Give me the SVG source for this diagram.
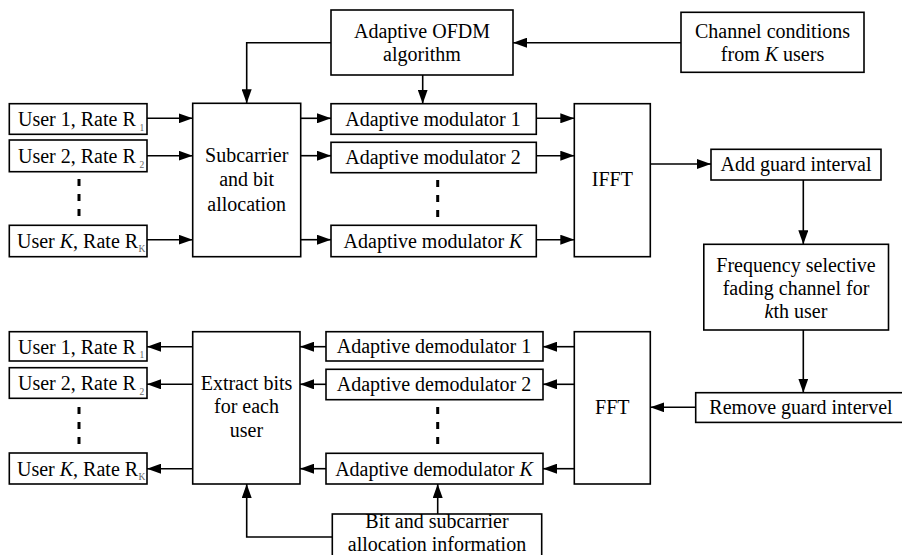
<svg xmlns="http://www.w3.org/2000/svg" width="902" height="555" viewBox="0 0 902 555">
  <style>
    .box { fill: #ffffff; stroke: #000000; stroke-width: 1.6; }
    .lbl { font-family: "Liberation Serif", "Times New Roman", serif; font-size: 20px; fill: #000000; }
    .mid { text-anchor: middle; }
    .sub { font-family: "Liberation Serif", "Times New Roman", serif; font-size: 9.5px; fill: #666666; }
    .wire { fill: none; stroke: #000000; stroke-width: 1.6; }
    .dots { fill: none; stroke: #000000; stroke-width: 3; stroke-dasharray: 7 8; }
  </style>
  <defs>
    <marker id="arrow" viewBox="0 0 14 10" refX="14" refY="5" markerWidth="14" markerHeight="10" markerUnits="userSpaceOnUse" orient="auto">
      <path d="M0,0 L14,5 L0,10 Z" fill="#000000"/>
    </marker>
  </defs>
  <rect width="902" height="555" fill="#ffffff"/>

  <!-- Connectors -->
  <g id="connectors">
    <!-- control paths -->
    <path class="wire" d="M681,42.7 H513" marker-end="url(#arrow)"/>
    <path class="wire" d="M331,42.7 H246.7 V103.3" marker-end="url(#arrow)"/>
    <path class="wire" d="M422.7,75 V103.7" marker-end="url(#arrow)"/>
    <!-- users to allocator -->
    <path class="wire" d="M147,118.3 H192.7" marker-end="url(#arrow)"/>
    <path class="wire" d="M147,155.7 H192.7" marker-end="url(#arrow)"/>
    <path class="wire" d="M147,239.7 H192.7" marker-end="url(#arrow)"/>
    <!-- allocator to modulators -->
    <path class="wire" d="M300.7,118.3 H331" marker-end="url(#arrow)"/>
    <path class="wire" d="M300.7,155.7 H331" marker-end="url(#arrow)"/>
    <path class="wire" d="M300.7,239.7 H331" marker-end="url(#arrow)"/>
    <!-- modulators to IFFT -->
    <path class="wire" d="M536.3,118.3 H574.3" marker-end="url(#arrow)"/>
    <path class="wire" d="M536.3,155.7 H574.3" marker-end="url(#arrow)"/>
    <path class="wire" d="M536.3,239.7 H574.3" marker-end="url(#arrow)"/>
    <!-- transmit / channel / receive chain -->
    <path class="wire" d="M650.3,164 H711" marker-end="url(#arrow)"/>
    <path class="wire" d="M803.3,180 V244.3" marker-end="url(#arrow)"/>
    <path class="wire" d="M803.3,330 V392.7" marker-end="url(#arrow)"/>
    <path class="wire" d="M695.7,407.3 H650.3" marker-end="url(#arrow)"/>
    <!-- FFT to demodulators -->
    <path class="wire" d="M574.3,346.7 H543" marker-end="url(#arrow)"/>
    <path class="wire" d="M574.3,384.3 H543" marker-end="url(#arrow)"/>
    <path class="wire" d="M574.3,468.7 H543" marker-end="url(#arrow)"/>
    <!-- demodulators to extractor -->
    <path class="wire" d="M326,346.7 H300" marker-end="url(#arrow)"/>
    <path class="wire" d="M326,384.3 H300" marker-end="url(#arrow)"/>
    <path class="wire" d="M326,468.7 H300" marker-end="url(#arrow)"/>
    <!-- extractor to users -->
    <path class="wire" d="M192.7,346.7 H147" marker-end="url(#arrow)"/>
    <path class="wire" d="M192.7,384.3 H147" marker-end="url(#arrow)"/>
    <path class="wire" d="M192.7,468.7 H147" marker-end="url(#arrow)"/>
    <!-- allocation info feeds -->
    <path class="wire" d="M332.3,537 H246.7 V484" marker-end="url(#arrow)"/>
    <path class="wire" d="M437.7,514 V484" marker-end="url(#arrow)"/>
    <!-- ellipsis dashes -->
    <path class="dots" d="M79,179 V216"/>
    <path class="dots" d="M437.7,180 V217"/>
    <path class="dots" d="M79,407 V444"/>
    <path class="dots" d="M437.7,407 V444"/>
  </g>

  <!-- Transmitter -->
  <g id="ofdm-algorithm">
    <rect class="box" x="331" y="10" width="182" height="65"/>
    <text class="lbl mid" x="422" y="37.5">Adaptive OFDM</text>
    <text class="lbl mid" x="422" y="60.5">algorithm</text>
  </g>
  <g id="channel-conditions">
    <rect class="box" x="681" y="12.3" width="183" height="60"/>
    <text class="lbl mid" x="772.5" y="37.5">Channel conditions</text>
    <text class="lbl mid" x="772.5" y="60.5">from <tspan font-style="italic">K</tspan> users</text>
  </g>

  <g id="tx-user-1">
    <rect class="box" x="9.3" y="103.7" width="137.7" height="30.6"/>
    <text class="lbl" x="18" y="126">User 1, Rate R</text>
    <text class="sub" x="139.5" y="131">1</text>
  </g>
  <g id="tx-user-2">
    <rect class="box" x="9.3" y="140" width="137.7" height="31.7"/>
    <text class="lbl" x="18" y="163">User 2, Rate R</text>
    <text class="sub" x="139.5" y="168">2</text>
  </g>
  <g id="tx-user-k">
    <rect class="box" x="9.3" y="225.3" width="137.7" height="31.4"/>
    <text class="lbl" x="17" y="248"><tspan>User </tspan><tspan font-style="italic">K</tspan><tspan>, Rate R</tspan></text>
    <text class="sub" x="138.5" y="252" font-size="8.5">K</text>
  </g>

  <g id="subcarrier-allocation">
    <rect class="box" x="192.7" y="103.3" width="108" height="153.4"/>
    <text class="lbl mid" x="246.7" y="162">Subcarrier</text>
    <text class="lbl mid" x="246.7" y="186">and bit</text>
    <text class="lbl mid" x="246.7" y="210.5">allocation</text>
  </g>

  <g id="modulator-1">
    <rect class="box" x="331" y="103.7" width="205.3" height="30.6"/>
    <text class="lbl mid" x="433" y="126">Adaptive modulator 1</text>
  </g>
  <g id="modulator-2">
    <rect class="box" x="331" y="142.3" width="205.3" height="30.4"/>
    <text class="lbl mid" x="433" y="164">Adaptive modulator 2</text>
  </g>
  <g id="modulator-k">
    <rect class="box" x="331" y="225.3" width="205.3" height="31.4"/>
    <text class="lbl mid" x="433" y="248">Adaptive modulator <tspan font-style="italic">K</tspan></text>
  </g>

  <g id="ifft">
    <rect class="box" x="574.3" y="103.7" width="76" height="153"/>
    <text class="lbl mid" x="612.3" y="186">IFFT</text>
  </g>

  <g id="add-guard">
    <rect class="box" x="711" y="149.3" width="170" height="30.7"/>
    <text class="lbl mid" x="796" y="171">Add guard interval</text>
  </g>

  <g id="fading-channel">
    <rect class="box" x="703.8" y="244.3" width="184.7" height="85.7"/>
    <text class="lbl mid" x="796" y="272">Frequency selective</text>
    <text class="lbl mid" x="796" y="294.5">fading channel for</text>
    <text class="lbl mid" x="796" y="318"><tspan font-style="italic">k</tspan>th user</text>
  </g>

  <!-- Receiver -->
  <g id="remove-guard">
    <rect class="box" x="695.7" y="392.7" width="212" height="29.7"/>
    <text class="lbl mid" x="801" y="414">Remove guard intervel</text>
  </g>

  <g id="fft">
    <rect class="box" x="574.3" y="331.7" width="76" height="152.3"/>
    <text class="lbl mid" x="612.3" y="413.5">FFT</text>
  </g>

  <g id="demodulator-1">
    <rect class="box" x="326" y="331.7" width="217" height="29.3"/>
    <text class="lbl mid" x="434" y="353">Adaptive demodulator 1</text>
  </g>
  <g id="demodulator-2">
    <rect class="box" x="326" y="369.3" width="217" height="30.4"/>
    <text class="lbl mid" x="434" y="391">Adaptive demodulator 2</text>
  </g>
  <g id="demodulator-k">
    <rect class="box" x="326" y="453.3" width="217" height="30.7"/>
    <text class="lbl mid" x="434" y="475.5">Adaptive demodulator  <tspan font-style="italic">K</tspan></text>
  </g>

  <g id="extract-bits">
    <rect class="box" x="192.7" y="331.7" width="107.3" height="152.3"/>
    <text class="lbl mid" x="246.5" y="389.5">Extract bits</text>
    <text class="lbl mid" x="246.5" y="413">for each</text>
    <text class="lbl mid" x="246.5" y="437">user</text>
  </g>

  <g id="rx-user-1">
    <rect class="box" x="9.3" y="331.7" width="137.7" height="29.3"/>
    <text class="lbl" x="18" y="353.5">User 1, Rate R</text>
    <text class="sub" x="139.5" y="358">1</text>
  </g>
  <g id="rx-user-2">
    <rect class="box" x="9.3" y="367.7" width="137.7" height="30.6"/>
    <text class="lbl" x="18" y="390">User 2, Rate R</text>
    <text class="sub" x="139.5" y="395">2</text>
  </g>
  <g id="rx-user-k">
    <rect class="box" x="9.3" y="453" width="137.7" height="31"/>
    <text class="lbl" x="17" y="475.5"><tspan>User </tspan><tspan font-style="italic">K</tspan><tspan>, Rate R</tspan></text>
    <text class="sub" x="138.5" y="480" font-size="8.5">K</text>
  </g>

  <g id="allocation-info">
    <rect class="box" x="332.3" y="514" width="209.4" height="60"/>
    <text class="lbl mid" x="437" y="528.3">Bit and subcarrier</text>
    <text class="lbl mid" x="437" y="550.6">allocation information</text>
  </g>
</svg>
